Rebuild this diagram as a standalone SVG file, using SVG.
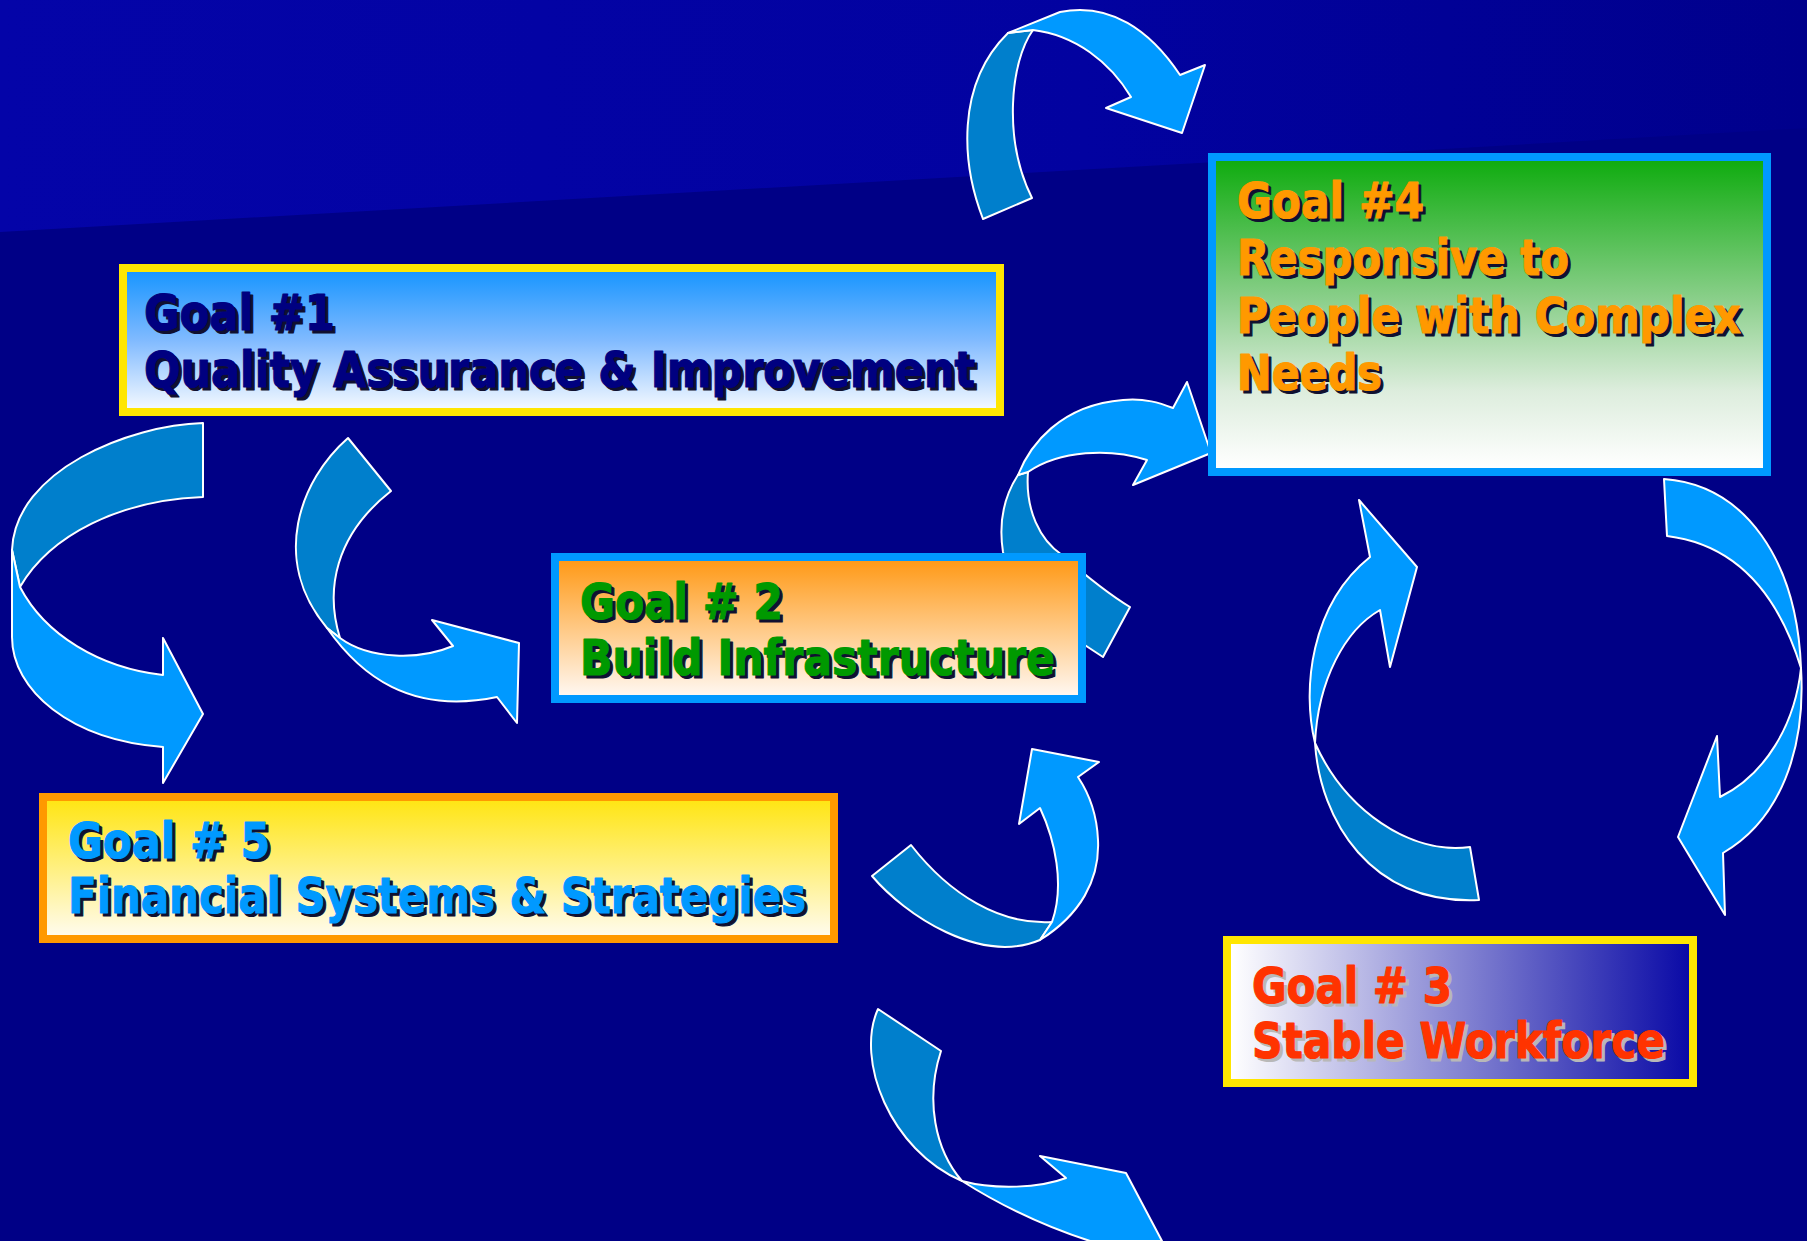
<svg xmlns="http://www.w3.org/2000/svg" width="1807" height="1241" viewBox="0 0 1807 1241">
<defs>
<linearGradient id="topbg" x1="0" y1="0" x2="1" y2="0">
<stop offset="0" stop-color="#0404A8"/><stop offset="0.6" stop-color="#0202A0"/><stop offset="1" stop-color="#00008C"/>
</linearGradient>
<linearGradient id="gr1" x1="0" y1="0" x2="0" y2="1">
<stop offset="0" stop-color="#1A96FF"/><stop offset="0.5" stop-color="#80BAFF"/><stop offset="1" stop-color="#F2F8FF"/>
</linearGradient>
<linearGradient id="gr4" x1="0" y1="0" x2="0" y2="1">
<stop offset="0" stop-color="#10AC10"/><stop offset="0.45" stop-color="#8ACF8A"/><stop offset="0.75" stop-color="#DDEDDD"/><stop offset="1" stop-color="#FFFFFF"/>
</linearGradient>
<linearGradient id="gr2" x1="0" y1="0" x2="0" y2="1">
<stop offset="0" stop-color="#FF9A18"/><stop offset="1" stop-color="#FFF7F0"/>
</linearGradient>
<linearGradient id="gr5" x1="0" y1="0" x2="0" y2="1">
<stop offset="0" stop-color="#FFE515"/><stop offset="1" stop-color="#FFFBEC"/>
</linearGradient>
<linearGradient id="gr3" x1="0" y1="0" x2="1" y2="0">
<stop offset="0" stop-color="#FFFFFF"/><stop offset="1" stop-color="#0A0AA6"/>
</linearGradient>
</defs>
<style>
.lt{fill:#0099FF;stroke:#FFFFFF;stroke-width:2;stroke-linejoin:round}
.dk{fill:#007FCC;stroke:#FFFFFF;stroke-width:2;stroke-linejoin:round}
text{font-family:"DejaVu Sans","Liberation Sans",sans-serif;font-weight:bold;font-size:49px;stroke-width:1.2px;stroke-linejoin:round}
.sh{fill:#101030;stroke:#101030}
.sh3{fill:#B8B8B8;stroke:#B8B8B8}
.c1{fill:#000080;stroke:#000080}
.c2{fill:#009900;stroke:#009900}
.c3{fill:#FF3300;stroke:#FF3300}
.c4{fill:#FF9900;stroke:#FF9900}
.c5{fill:#0099FF;stroke:#0099FF}
</style>
<rect x="0" y="0" width="1807" height="1241" fill="#000086"/>
<polygon points="0,0 1807,0 1807,128 0,232" fill="url(#topbg)"/>

<g id="connectors">
<g id="arrow-top">
<path class="dk" d="M983,219 C962,165 955,85 1008,33 L1033,30 C1010,62 1003,140 1032,198 Z"/>
<path class="lt" d="M1008,33 L1060,12 C1110,2 1150,30 1180,75 L1205,65 L1182,133 L1106,108 L1131,97 C1110,62 1075,35 1033,30 Z"/>
</g>
<g id="arrow-left">
<path class="dk" d="M203,423 C130,425 15,470 12,550 L20,587 C50,535 120,500 203,497 Z"/>
<path class="lt" d="M12,550 L12,637 C12,690 70,740 163,747 L163,783 L203,714 L163,638 L163,675 C100,668 45,635 20,587 Z"/>
</g>
<g id="arrow-1-2">
<path class="dk" d="M348,438 C300,480 270,560 327,628 L340,638 C325,590 335,535 391,491 Z"/>
<path class="lt" d="M327,628 C360,675 410,715 497,697 L517,723 L519,643 L432,620 L453,646 C420,660 370,660 340,638 Z"/>
</g>
<g id="arrow-2-4">
<path class="dk" d="M1130,607 L1103,657 C1060,630 1010,590 1003,552 C998,520 1005,495 1018,475 L1028,472 C1025,510 1040,540 1062,555 C1085,575 1110,595 1130,607 Z"/>
<path class="lt" d="M1018,475 C1030,445 1060,405 1123,400 C1145,398 1160,403 1173,408 L1187,382 L1211,453 L1133,485 L1147,460 C1110,448 1060,450 1028,472 Z"/>
</g>
<g id="arrow-4-3">
<path class="lt" d="M1664,479 C1745,485 1797,560 1801,668 C1780,600 1740,545 1667,536 Z"/>
<path class="lt" d="M1801,668 C1806,750 1780,820 1723,853 L1725,915 L1678,837 L1717,736 L1720,797 C1765,775 1795,725 1801,668 Z"/>
</g>
<g id="arrow-3-4">
<path class="dk" d="M1315,743 C1320,820 1370,905 1479,900 L1470,847 C1410,855 1345,810 1315,743 Z"/>
<path class="lt" d="M1370,557 L1359,500 L1417,567 L1390,667 L1380,610 C1345,630 1318,680 1315,743 C1302,690 1310,605 1370,557 Z"/>
</g>
<g id="arrow-to-2">
<path class="dk" d="M872,876 C905,915 980,965 1040,940 L1052,922 C1000,925 950,895 911,845 Z"/>
<path class="lt" d="M1040,940 C1080,915 1100,880 1098,840 C1097,815 1090,795 1078,777 L1099,762 L1032,749 L1019,824 L1040,808 C1055,840 1065,885 1052,922 Z"/>
</g>
<g id="arrow-bottom">
<path class="dk" d="M878,1009 C855,1060 890,1150 962,1181 C935,1150 925,1100 941,1051 Z"/>
<path class="lt" d="M962,1181 C995,1190 1040,1188 1066,1178 L1040,1156 L1126,1173 L1162,1241 L1090,1241 C1040,1225 1000,1205 962,1181 Z"/>
</g>
</g>

<g id="goal1">
<rect x="119" y="264" width="885" height="152" fill="#FFE600"/>
<rect x="127" y="272" width="869" height="136" fill="url(#gr1)"/>
<text class="sh" x="147" y="333" textLength="191" lengthAdjust="spacingAndGlyphs">Goal #1</text>
<text class="sh" x="147" y="390" textLength="831" lengthAdjust="spacingAndGlyphs">Quality Assurance &amp; Improvement</text>
<text class="c1" x="144" y="330" textLength="191" lengthAdjust="spacingAndGlyphs">Goal #1</text>
<text class="c1" x="144" y="387" textLength="831" lengthAdjust="spacingAndGlyphs">Quality Assurance &amp; Improvement</text>
</g>

<g id="goal4">
<rect x="1208" y="153" width="563" height="323" fill="#0099FF"/>
<rect x="1216" y="161" width="547" height="307" fill="url(#gr4)"/>
<text class="sh" x="1240" y="221" textLength="187" lengthAdjust="spacingAndGlyphs">Goal #4</text>
<text class="sh" x="1240" y="278" textLength="332" lengthAdjust="spacingAndGlyphs">Responsive to</text>
<text class="sh" x="1240" y="336" textLength="504" lengthAdjust="spacingAndGlyphs">People with Complex</text>
<text class="sh" x="1240" y="393" textLength="145" lengthAdjust="spacingAndGlyphs">Needs</text>
<text class="c4" x="1237" y="218" textLength="187" lengthAdjust="spacingAndGlyphs">Goal #4</text>
<text class="c4" x="1237" y="275" textLength="332" lengthAdjust="spacingAndGlyphs">Responsive to</text>
<text class="c4" x="1237" y="333" textLength="504" lengthAdjust="spacingAndGlyphs">People with Complex</text>
<text class="c4" x="1237" y="390" textLength="145" lengthAdjust="spacingAndGlyphs">Needs</text>
</g>

<g id="goal2">
<rect x="551" y="553" width="535" height="150" fill="#0099FF"/>
<rect x="559" y="561" width="519" height="134" fill="url(#gr2)"/>
<text class="sh" x="583" y="622" textLength="203" lengthAdjust="spacingAndGlyphs">Goal # 2</text>
<text class="sh" x="583" y="678" textLength="475" lengthAdjust="spacingAndGlyphs">Build Infrastructure</text>
<text class="c2" x="580" y="619" textLength="203" lengthAdjust="spacingAndGlyphs">Goal # 2</text>
<text class="c2" x="580" y="675" textLength="475" lengthAdjust="spacingAndGlyphs">Build Infrastructure</text>
</g>

<g id="goal5">
<rect x="39" y="793" width="799" height="150" fill="#FF9900"/>
<rect x="47" y="801" width="783" height="134" fill="url(#gr5)"/>
<text class="sh" x="71" y="861" textLength="202" lengthAdjust="spacingAndGlyphs">Goal # 5</text>
<text class="sh" x="71" y="916" textLength="738" lengthAdjust="spacingAndGlyphs">Financial Systems &amp; Strategies</text>
<text class="c5" x="68" y="858" textLength="202" lengthAdjust="spacingAndGlyphs">Goal # 5</text>
<text class="c5" x="68" y="913" textLength="738" lengthAdjust="spacingAndGlyphs">Financial Systems &amp; Strategies</text>
</g>

<g id="goal3">
<rect x="1223" y="936" width="474" height="151" fill="#FFE600"/>
<rect x="1231" y="944" width="458" height="135" fill="url(#gr3)"/>
<text class="sh3" x="1255" y="1006" textLength="200" lengthAdjust="spacingAndGlyphs">Goal # 3</text>
<text class="sh3" x="1255" y="1061" textLength="413" lengthAdjust="spacingAndGlyphs">Stable Workforce</text>
<text class="c3" x="1252" y="1003" textLength="200" lengthAdjust="spacingAndGlyphs">Goal # 3</text>
<text class="c3" x="1252" y="1058" textLength="413" lengthAdjust="spacingAndGlyphs">Stable Workforce</text>
</g>
</svg>
